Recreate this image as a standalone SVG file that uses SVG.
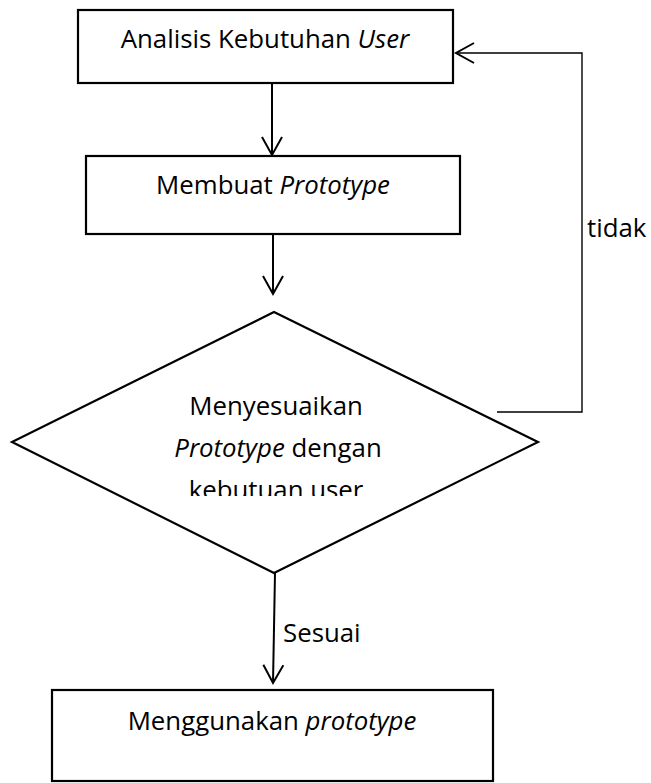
<svg xmlns="http://www.w3.org/2000/svg" width="651" height="783" viewBox="0 0 651 783">
<style>
.box{fill:#fff;stroke:#000;stroke-width:2.2}
.t{font-family:"Open Sans","Liberation Sans",sans-serif;font-size:25.8px;fill:#000}
.c{text-anchor:middle}
.i{font-style:italic}
.ln{fill:none;stroke:#000;stroke-width:2}
.fb{fill:none;stroke:#000;stroke-width:1.4}
</style>
<defs>
<marker id="ah" markerWidth="22" markerHeight="24" refX="19" refY="11" orient="auto" markerUnits="userSpaceOnUse">
<path d="M1,1 L19,11 L1,21" fill="none" stroke="#000" stroke-width="2"/>
</marker>
<clipPath id="dclip"><rect x="0" y="300" width="651" height="196"/></clipPath>
</defs>
<rect width="651" height="783" fill="#fff"/>
<g id="connectors">
<line class="ln" x1="272" y1="83" x2="272" y2="155" marker-end="url(#ah)"/>
<line class="ln" x1="273" y1="234" x2="273" y2="294" marker-end="url(#ah)"/>
<line class="ln" x1="275" y1="573" x2="273" y2="683" marker-end="url(#ah)"/>
<polyline class="fb" points="497,412 582,412 582,53 456,53" marker-end="url(#ah)"/>
<text class="t" x="283" y="642">Sesuai</text>
<text class="t" x="587" y="237">tidak</text>
</g>
<g id="n1">
<rect class="box" x="78" y="10" width="375" height="73"/>
<text class="t c" x="265" y="48">Analisis Kebutuhan <tspan class="i">User</tspan></text>
</g>
<g id="n2">
<rect class="box" x="86" y="156" width="374" height="78"/>
<text class="t c" x="273" y="194">Membuat <tspan class="i">Prototype</tspan></text>
</g>
<g id="n3">
<polygon class="box" points="274,312 538,442 274,573 12,442"/>
<text class="t c" x="276" y="415">Menyesuaikan</text>
<text class="t c" x="278" y="457"><tspan class="i">Prototype</tspan> dengan</text>
<text class="t c" x="276" y="499" clip-path="url(#dclip)">kebutuan user</text>
</g>
<g id="n4">
<rect class="box" x="52" y="690" width="441" height="91"/>
<text class="t c" x="272" y="730">Menggunakan <tspan class="i">prototype</tspan></text>
</g>
</svg>
